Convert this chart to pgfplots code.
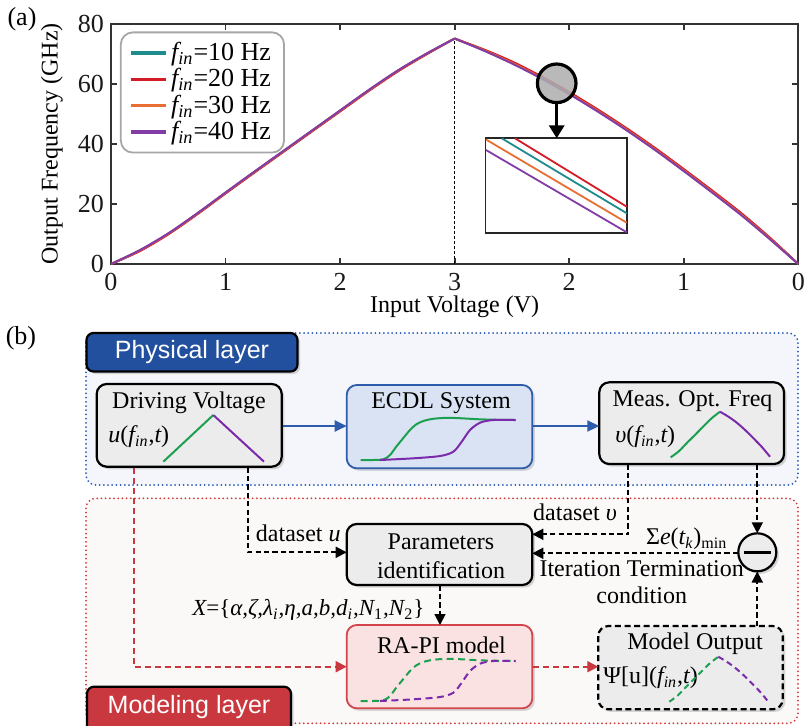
\documentclass[border=0pt]{standalone}
\usepackage{pgfplots}
\pgfplotsset{compat=1.18}
\usepackage{fontspec}
\setmainfont{Liberation Serif}
\setsansfont{Liberation Sans}
\usetikzlibrary{shadows,arrows.meta}
\definecolor{cteal}{RGB}{30,140,140}
\definecolor{cred}{RGB}{212,28,38}
\definecolor{corange}{RGB}{232,110,50}
\definecolor{cpurple}{RGB}{130,60,165}
\definecolor{cgreen}{RGB}{28,160,80}
\definecolor{vpurple}{RGB}{122,42,170}
\definecolor{physblue}{RGB}{34,80,158}
\definecolor{physline}{RGB}{40,90,180}
\definecolor{physfill}{RGB}{244,246,251}
\definecolor{modred}{RGB}{200,56,62}
\definecolor{modline}{RGB}{212,60,60}
\definecolor{modfill}{RGB}{251,248,248}
\definecolor{boxgray}{RGB}{236,236,236}
\definecolor{ecdlfill}{RGB}{218,227,243}
\definecolor{ecdlline}{RGB}{46,92,172}
\definecolor{rapifill}{RGB}{251,226,226}
\definecolor{rapiline}{RGB}{210,70,75}
\newcommand\fin{{\itshape f}\textsubscript{\itshape in}}
\tikzset{
  shad/.style={drop shadow={shadow xshift=1.3pt, shadow yshift=-1.3pt, opacity=0.3}},
  blk/.style={draw=black, line width=1.1pt, rounded corners=5pt, fill=boxgray, shad},
  dsh/.style={black, line width=0.9pt, dash pattern=on 2.6pt off 1.6pt, -{Triangle[length=5.5pt,width=5.5pt]}},
  rdsh/.style={modred, line width=0.9pt, dash pattern=on 3pt off 2pt, -{Triangle[length=5.5pt,width=5.5pt]}},
  barr/.style={ecdlline, line width=1pt, -{Triangle[length=6pt,width=5.5pt]}},
  txt/.style={font=\fontsize{12}{14}\selectfont, inner sep=0pt},
}
\pgfplotstableread{
x teal red orange purple
0    0     0     0     0
0.25 4.45  4.25  4.5   4.6
0.5  10.05 9.85  10.1  10.2
0.75 16.65 16.45 16.7  16.8
1    23.65 23.45 23.7  23.8
1.25 30.55 30.35 30.6  30.7
1.5  37.35 37.15 37.4  37.5
1.75 44.15 43.95 44.2  44.3
2    50.95 50.75 51.0  51.1
2.25 57.75 57.55 57.8  57.9
2.5  64.15 63.95 64.2  64.3
2.75 69.8  69.65 69.85 69.9
3    75.0  75.0  75.0  75.0
}\upbranch
\pgfplotstableread{
x teal red orange purple
3    75.0  75.0  75.0  75.0
3.25 71.3  71.45 71.2  71.05
3.5  67.15 67.4  66.95 66.7
3.75 62.3  62.55 62.1  61.85
4    56.95 57.2  56.75 56.5
4.25 51.15 51.4  50.95 50.7
4.5  44.95 45.2  44.75 44.5
4.75 38.35 38.6  38.15 37.9
5    31.35 31.6  31.15 30.9
5.25 24.15 24.4  23.95 23.7
5.5  16.75 17.0  16.55 16.3
5.75 8.65  8.85  8.5   8.3
6    0     0     0     0
}\downbranch
\begin{document}
\begin{tikzpicture}
\useasboundingbox (0,0) rectangle (402pt,-362.5pt);
\begin{axis}[
  at={(55.5pt,-132pt)}, anchor=south west,
  width=343.65pt, height=120.25pt, scale only axis,
  xmin=0, xmax=6, ymin=0, ymax=80,
  xtick={0,1,2,3,4,5,6}, xticklabels={0,1,2,3,2,1,0},
  ytick={0,20,40,60,80},
  tick align=inside, major tick length=3.2pt,
  axis line style={draw=black!80, line width=1pt},
  tick style={draw=black!80, line width=0.9pt},
  ticklabel style={font=\fontsize{13}{15}\selectfont, text=black!90},
  xticklabel style={yshift=-1pt},
  /pgf/number format/assume math mode=true,
  xlabel={Input Voltage (V)},
  ylabel={Output Frequency (GHz)},
  xlabel style={font=\fontsize{12}{14}\selectfont, at={(axis description cs:0.5,-0.178)}, anchor=center},
  ylabel style={font=\fontsize{12}{14}\selectfont, at={(axis description cs:-0.086,0.5)}, anchor=center},
  legend style={at={(0.013,0.967)}, anchor=north west, draw=black!35, line width=0.9pt,
    rounded corners=6pt, font=\fontsize{13}{15}\selectfont, row sep=-1.5pt, inner xsep=4.5pt, inner ysep=3pt},
  legend cell align=left,
  legend image post style={line width=1.6pt},
]
\addplot[black, line width=0.5pt, dash pattern=on 1.5pt off 1pt, forget plot] coordinates {(3,0) (3,75)};
\addplot[cteal, line width=1pt, smooth, tension=0.5] table[x=x, y=teal] {\upbranch};
\addlegendentry{\fin=10 Hz}
\addplot[cteal, line width=1pt, smooth, tension=0.5, forget plot] table[x=x, y=teal] {\downbranch};
\addplot[cred, line width=1pt, smooth, tension=0.5] table[x=x, y=red] {\upbranch};
\addlegendentry{\fin=20 Hz}
\addplot[cred, line width=1pt, smooth, tension=0.5, forget plot] table[x=x, y=red] {\downbranch};
\addplot[corange, line width=1pt, smooth, tension=0.5] table[x=x, y=orange] {\upbranch};
\addlegendentry{\fin=30 Hz}
\addplot[corange, line width=1pt, smooth, tension=0.5, forget plot] table[x=x, y=orange] {\downbranch};
\addplot[cpurple, line width=1pt, smooth, tension=0.5] table[x=x, y=purple] {\upbranch};
\addlegendentry{\fin=40 Hz}
\addplot[cpurple, line width=1pt, smooth, tension=0.5, forget plot] table[x=x, y=purple] {\downbranch};
\end{axis}

\begin{scope}[x=0.5pt,y=-0.5pt]
% panel labels
\node[txt, font=\fontsize{13}{15}\selectfont] at (22,19) {(a)};
\node[txt, font=\fontsize{13}{15}\selectfont] at (21,338) {(b)};
% inset and magnifier
\draw[black!85, line width=0.75pt, fill=white] (485.5,138) rectangle (626.8,232.8);
\draw[black, line width=1.6pt, -{Triangle[length=6.5pt,width=7.5pt]}] (556.7,102.5) -- (556.7,138.3);
\draw[black, line width=1.6pt, fill=black!32, fill opacity=0.85] (556.7,83.3) circle (9.65pt);

% regions
\draw[physline, fill=physfill, line width=1pt, line cap=round, dash pattern=on 0pt off 2.1pt, rounded corners=5pt] (86,333) rectangle (798,485);
\draw[modline, fill=modfill, line width=1pt, line cap=round, dash pattern=on 0pt off 2.1pt, rounded corners=5pt] (86,498.3) rectangle (798,723.3);
% layer labels
\draw[draw=black, line width=1.1pt, fill=physblue, rounded corners=3.5pt, shad] (86.5,333) rectangle (297.5,371.5);
\node[txt, font=\sffamily\fontsize{12.5}{15}\selectfont, text=white] at (192,352.5) {Physical layer};
\draw[draw=black, line width=1.1pt, fill=modred, rounded corners=3.5pt, shad] (87,686.7) rectangle (291,745);
\node[txt, font=\sffamily\fontsize{12.5}{15}\selectfont, text=white] at (189,707) {Modeling layer};

% boxes
\draw[blk] (96.7,384) rectangle (281.7,466.7);
\draw[draw=ecdlline, line width=0.9pt, rounded corners=5pt, fill=ecdlfill, shad] (346.7,385) rectangle (532.3,468.3);
\draw[blk] (599.3,382.3) rectangle (784,464);
\draw[blk] (346.7,524) rectangle (532.3,585);
\draw[draw=rapiline, line width=0.9pt, rounded corners=5pt, fill=rapifill, shad] (346.7,625) rectangle (532.3,708.3);
\draw[blk, dash pattern=on 3pt off 1.8pt] (598.3,626) rectangle (782.7,709.3);
\draw[draw=black, line width=1.1pt, fill=boxgray, shad] (757.3,552.3) circle (9.5pt);
\draw[black, line width=1.3pt] (744,552.3) -- (770.6,552.3);

% arrows
\draw[barr] (282.5,426) -- (346.7,426);
\draw[barr] (533,426) -- (599.3,426);
\draw[dsh] (248,467.5) -- (248,552.3) -- (346.7,552.3);
\draw[dsh] (628.3,464.5) -- (628.3,534.3) -- (532.3,534.3);
\draw[dsh] (757.3,464.5) -- (757.3,533.3);
\draw[dsh] (738,553.3) -- (532.3,553.3);
\draw[dsh] (440,585.5) -- (440,625);
\draw[dsh] (757.3,626) -- (757.3,571.5);
\draw[rdsh] (133.7,467.5) -- (133.7,666.7) -- (346.7,666.7);
\draw[rdsh] (533,666.7) -- (598.3,666.7);

% texts
\node[txt] at (189,403) {Driving Voltage};
\node[txt, anchor=west] at (108,437) {{\itshape u}(\fin,{\itshape t})};
\node[txt] at (441,403) {ECDL System};
\node[txt] at (692.5,401) {Meas. Opt. Freq};
\node[txt, anchor=west] at (615,437) {{\itshape υ}(\fin,{\itshape t})};
\node[txt] at (441,541.7) {Parameters};
\node[txt] at (441,570) {identification};
\node[txt] at (441.5,645) {RA-PI model};
\node[txt] at (695,644) {Model Output};
\node[txt, anchor=west] at (603,678) {Ψ[u](\fin,{\itshape t})};
\node[txt] at (298.3,533.3) {dataset {\itshape u}};
\node[txt] at (575,512.7) {dataset {\itshape υ}};
\node[txt] at (686.7,539) {Σ{\itshape e}({\itshape t}\textsubscript{\itshape k})\textsubscript{min}};
\node[txt] at (641.7,568.3) {Iteration Termination};
\node[txt] at (641.7,595) {condition};
\node[txt, font=\fontsize{11.5}{14}\selectfont] at (308.3,610) {{\itshape X}=\{{\itshape α,ζ,λ}\textsubscript{\itshape i}{\itshape ,η,a,b,d}\textsubscript{\itshape i}{\itshape ,N}\textsubscript{1}{\itshape ,N}\textsubscript{2}\}};
\end{scope}

% overlay axis for the small curves
\begin{axis}[at={(0pt,0pt)}, anchor=north west, width=402pt, height=362.5pt, scale only axis,
  xmin=0, xmax=804, ymin=0, ymax=725, y dir=reverse, hide axis, clip=false]
% inset lines
\addplot[cred, line width=0.9pt] coordinates {(515,138.3) (626.8,206.7)};
\addplot[cteal, line width=0.9pt] coordinates {(501.7,138.3) (626.8,213.3)};
\addplot[corange, line width=0.9pt] coordinates {(486,139.5) (626.8,222.7)};
\addplot[cpurple, line width=0.9pt] coordinates {(486,150) (626.8,232.3)};
% driving voltage
\addplot[cgreen, line width=1pt] coordinates {(163.3,461.7) (213.3,415)};
\addplot[vpurple, line width=1pt] coordinates {(213.3,415) (264,461.7)};
% ECDL
\addplot[cgreen, line width=1pt, smooth] coordinates {(360.7,460)(372,460)(383.3,459.3)(390,455)(396,447)(403.3,438)(410,430)(416,424.5)(423.3,421)(433,418.8)(446.7,417.8)(460,418.2)(480,419.3)(500,419.8)(515.7,420)};
\addplot[vpurple, line width=1pt, smooth] coordinates {(380,460)(413.3,458.3)(440,456)(453.3,451.7)(461.7,441.7)(470,430)(480,422.7)(493.3,420)(515.7,420)};
% Meas
\addplot[cgreen, line width=1pt, smooth] coordinates {(670.7,457.3)(678.9,451.2)(687.1,442.7)(695.4,434.5)(703.6,426.1)(711.8,418.1)(720,411.7)};
\addplot[vpurple, line width=1pt, smooth] coordinates {(720,411.7)(728.3,416.6)(736.7,422.6)(745,429.9)(753.3,438.1)(761.7,446.8)(770,456.7)};
% RA-PI
\addplot[cgreen, line width=1pt, smooth, dash pattern=on 3.5pt off 2.2pt] coordinates {(360.7,701)(372,701)(383.3,700.3)(390,696)(396,688)(403.3,679)(410,671)(416,665.5)(423.3,662)(433,659.8)(446.7,658.8)(460,659.2)(480,660.3)(500,660.8)(515.7,661)};
\addplot[vpurple, line width=1pt, smooth, dash pattern=on 3.5pt off 2.2pt] coordinates {(380,701)(413.3,699.3)(440,697)(453.3,692.7)(461.7,682.7)(470,671)(480,663.7)(493.3,661)(515.7,661)};
% Model output
\addplot[cgreen, line width=1pt, smooth, dash pattern=on 3pt off 2pt] coordinates {(669.3,701.7)(677.5,695.7)(685.6,687.3)(693.8,679.2)(702,670.9)(710.1,663.1)(718.3,656.7)};
\addplot[vpurple, line width=1pt, smooth, dash pattern=on 3pt off 2pt] coordinates {(718.3,656.7)(726.6,661.6)(734.9,667.6)(743.3,674.9)(751.6,683.1)(760,691.7)(768.3,701.7)};
\end{axis}
\end{tikzpicture}
\end{document}
